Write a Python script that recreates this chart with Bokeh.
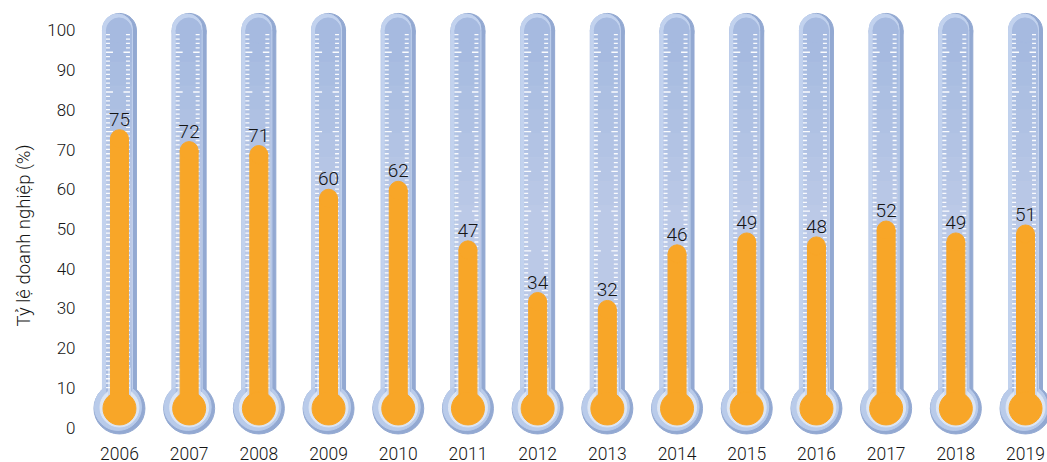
import numpy as np
from bokeh.plotting import figure
from bokeh.models import Range1d, FixedTicker, ColumnDataSource, Title
from bokeh.embed import file_html
from bokeh.resources import INLINE
from bokeh.core.properties import value

# ---- data ----
years = ["2006", "2007", "2008", "2009", "2010", "2011", "2012",
         "2013", "2014", "2015", "2016", "2017", "2018", "2019"]
rates = [75, 72, 71, 60, 62, 47, 34, 32, 46, 49, 48, 52, 49, 51]
y_ticks = [0, 10, 20, 30, 40, 50, 60, 70, 80, 90, 100]
y_title = "Tỷ lệ doanh nghiệp (%)"

# ---- geometry (pixels per data unit) ----
W, H = 1047, 462
LEFT, BOTTOM = 82, 23
PX = 69.77
PY = 3.98
X0 = -36 / PX
Y_TOP = 428 / PY           # frame top at pixel row 0
Y_BOT = Y_TOP - (H - BOTTOM) / PY
BULB = 4.8                 # bulb centre (data y)
TUBE_TOP = 100.0           # centre of the rounded tube top

FONT = "Roboto Light"
TXT = "#151515"
ORANGE = "#F8A628"

xs = list(range(len(years)))
n = len(xs)

p = figure(width=W, height=H, output_backend="svg", toolbar_location=None,
           x_range=Range1d(X0, X0 + (W - LEFT) / PX), y_range=Range1d(Y_BOT, Y_TOP),
           min_border_left=LEFT, min_border_right=0, min_border_top=0,
           min_border_bottom=BOTTOM)
p.outline_line_color = None
p.grid.visible = False
p.background_fill_color = "white"
p.border_fill_color = "white"

def dx(px):
    return [x + px / PX for x in xs]

def dy(v, px):
    return v + px / PY

# dark shell
p.vbar(x=xs, bottom=BULB, top=TUBE_TOP, width=34 / PX, color="#93a9d2")
p.scatter(x=xs, y=[TUBE_TOP] * n, size=34, color="#93a9d2")
p.scatter(x=xs, y=[BULB] * n, size=51, color="#93a9d2")
# light shell (shifted up-left for shading)
p.vbar(x=dx(-2), bottom=BULB, top=TUBE_TOP, width=30 / PX, color="#c2d2ee")
p.scatter(x=dx(-2), y=[dy(TUBE_TOP, 1.5)] * n, size=30, color="#c2d2ee")
p.scatter(x=dx(-1.5), y=[dy(BULB, 1.5)] * n, size=47, color="#b9cbea")
# inner channel
p.vbar(x=dx(-0.5), bottom=BULB, top=TUBE_TOP, width=25 / PX, color="#a6bae0")
p.scatter(x=dx(-0.5), y=[TUBE_TOP] * n, size=25, color="#a6bae0")
# soft lighter middle of the channel
for lo, hi in [(12, 92), (15, 86), (18, 80), (21, 74), (24, 68), (27, 62), (30, 56)]:
    p.vbar(x=dx(-0.5), bottom=lo, top=hi, width=25 / PX, color="white", alpha=0.045)
# pale ring around bulb
p.scatter(x=xs, y=[dy(BULB, 1)] * n, size=39, color="#dde6f4")
p.vbar(x=xs, bottom=BULB, top=15, width=22 / PX, color="#cbd8ef")

# scale dashes
idx = range(-4, 77)
ticks_y = [94.5 - i * 10 / 9 for i in idx]
long_flag = [i % 9 == 0 for i in idx]
lx0, lx1, rx0, rx1, ty = [], [], [], [], []
for x in xs:
    for t, lg in zip(ticks_y, long_flag):
        ty.append(t)
        lx0.append(x - 13.5 / PX)
        lx1.append(x + (-6.5 if lg else -9.5) / PX)
        rx0.append(x + (4.0 if lg else 6.5) / PX)
        rx1.append(x + 10.5 / PX)
p.segment(x0=lx0, x1=lx1, y0=ty, y1=ty, line_color="white", line_width=1.3, line_alpha=0.95)
p.segment(x0=rx0, x1=rx1, y0=ty, y1=ty, line_color="white", line_width=1.3, line_alpha=0.95)

# mercury
tips = [r - 9 / PY for r in rates]
p.vbar(x=xs, bottom=BULB, top=tips, width=18 / PX, color=ORANGE)
p.scatter(x=xs, y=tips, size=18, color=ORANGE)
p.scatter(x=xs, y=[BULB] * n, size=33, color=ORANGE)

# value labels
src = ColumnDataSource(dict(x=xs, y=rates, t=[str(r) for r in rates]))
p.text(x="x", y="y", text="t", source=src, text_align="center",
       text_baseline="alphabetic", y_offset=-10.5, text_font=value(FONT),
       text_font_size="19px", text_color=TXT)

# axes
p.yaxis.ticker = FixedTicker(ticks=y_ticks)
p.yaxis.axis_line_color = None
p.yaxis.major_tick_line_color = None
p.yaxis.minor_tick_line_color = None
p.yaxis.major_tick_out = 0
p.yaxis.major_label_text_font = FONT
p.yaxis.major_label_text_font_size = "17px"
p.yaxis.major_label_text_color = TXT
p.yaxis.major_label_standoff = 8

p.xaxis.ticker = FixedTicker(ticks=xs)
p.xaxis.major_label_overrides = {i: y for i, y in zip(xs, years)}
p.xaxis.axis_line_color = None
p.xaxis.major_tick_line_color = None
p.xaxis.minor_tick_line_color = None
p.xaxis.major_label_text_font = FONT
p.xaxis.major_label_text_font_size = "17.5px"
p.xaxis.major_label_text_color = TXT
p.xaxis.major_label_standoff = 2

p.add_layout(Title(text=y_title, align="left", offset=112, standoff=20,
                   text_font=FONT, text_font_size="18.5px", text_font_style="normal",
                   text_color=TXT), "left")

open("out.html", "w").write(file_html(p, INLINE))
